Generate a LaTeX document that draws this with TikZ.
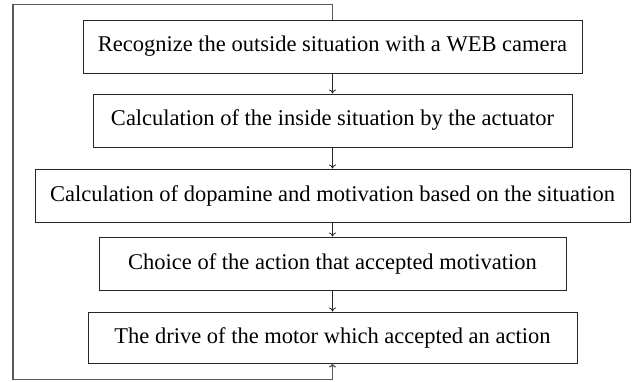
\documentclass[tikz,border=0pt]{standalone}
\usepackage{fontspec}
\setmainfont{Liberation Serif}
\usetikzlibrary{positioning}
\usetikzlibrary{arrows.meta}

\begin{document}
\begin{tikzpicture}[x=1pt,y=-1pt, >={To[length=4pt,width=7pt]},
		stepbox/.style={rectangle, draw=black!85, line width=1pt, minimum height=53pt, inner sep=0pt, font=\fontsize{22.5}{26}\selectfont},
		flow/.style={draw=black!85, line width=0.8pt, ->}]
				\useasboundingbox (0,0) rectangle (635,381);
				\node[stepbox, minimum width=499pt] (1) at (332.5,46.5) {Recognize the outside situation with a WEB camera};
				\node[stepbox, minimum width=479pt] (2) at (332.5,120.5) {Calculation of the inside situation by the actuator};
				\node[stepbox, minimum width=595pt] (3) at (332.5,195.5) {Calculation of dopamine and motivation based on the situation};
				\node[stepbox, minimum width=467pt] (4) at (332.5,263.5) {Choice of the action that accepted motivation};
				\node[stepbox, minimum width=489pt, minimum height=51pt] (5) at (332.5,337.5) {The drive of the motor which accepted an action};
				
				\coordinate (a) at (332.5,4.5);
				\coordinate (b) at (13,4.5);
				\coordinate (c) at (13,379.5);
				\coordinate (d) at (332.5,379.5);
				
				\draw[flow]  (1) -- (2);
				\draw[flow]  (2) -- (3);
				\draw[flow]  (3) -- (4);
				\draw[flow]  (4) -- (5);
				\draw[flow, draw=black!65, line width=1.3pt]  (1.north) -- (a) -- (b) -- (c) -- (d) -- (5.south);
			\end{tikzpicture}
\end{document}
